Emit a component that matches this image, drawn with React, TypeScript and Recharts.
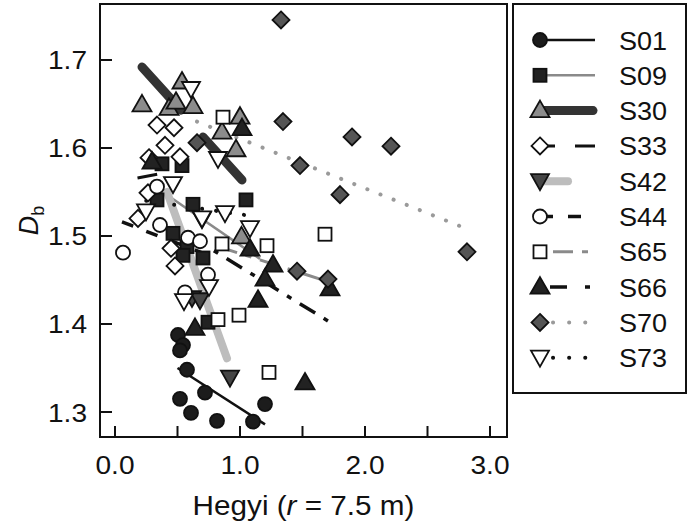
import React from "react";
import { ComposedChart, Scatter, Line, XAxis, YAxis, ReferenceArea } from "recharts";

// ---------- data ----------
const SERIES_NAMES = ["S01", "S09", "S30", "S33", "S42", "S44", "S65", "S66", "S70", "S73"];

const S01_X = [0.504, 0.544, 0.52, 0.576, 0.72, 0.52, 0.608, 0.816, 1.2, 1.104];
const S01_Y = [1.3875, 1.376, 1.37, 1.348, 1.322, 1.315, 1.299, 1.29, 1.309, 1.289];
const S09_X = [0.376, 0.536, 0.624, 1.048, 0.336, 0.464, 0.576, 0.544, 0.704, 0.744];
const S09_Y = [1.582, 1.58, 1.536, 1.541, 1.541, 1.503, 1.488, 1.478, 1.475, 1.402];
const S30_X = [0.216, 0.536, 0.432, 0.488, 0.624, 0.856, 1.0, 0.968, 1.012];
const S30_Y = [1.649, 1.675, 1.645, 1.652, 1.647, 1.618, 1.635, 1.598, 1.499];
const S33_X = [0.336, 0.472, 0.4, 0.272, 0.52, 0.264, 0.184, 0.448, 0.48];
const S33_Y = [1.626, 1.623, 1.603, 1.589, 1.59, 1.549, 1.52, 1.486, 1.466];
const S42_X = [0.616, 0.68, 0.92, 0.696];
const S42_Y = [1.4295, 1.427, 1.339, 1.519];
const S44_X = [0.064, 0.336, 0.36, 0.584, 0.68, 0.744, 0.56];
const S44_Y = [1.481, 1.556, 1.5125, 1.498, 1.494, 1.456, 1.436];
const S65_X = [0.864, 0.856, 1.216, 1.68, 0.824, 0.992, 1.232];
const S65_Y = [1.635, 1.491, 1.489, 1.502, 1.405, 1.41, 1.345];
const S66_X = [0.296, 1.016, 1.08, 1.264, 1.2, 1.144, 0.64, 1.52, 1.72];
const S66_Y = [1.584, 1.622, 1.485, 1.467, 1.451, 1.427, 1.395, 1.333, 1.44];
const S70_X = [1.328, 1.344, 0.656, 1.48, 1.896, 2.208, 1.8, 1.456, 1.704, 2.816];
const S70_Y = [1.7455, 1.63, 1.606, 1.58, 1.6125, 1.602, 1.547, 1.46, 1.451, 1.482];
const S73_X = [0.608, 0.824, 0.464, 0.248, 0.696, 0.88, 1.08, 0.552, 0.752];
const S73_Y = [1.667, 1.5875, 1.559, 1.528, 1.52, 1.526, 1.509, 1.426, 1.442];

// fitted lines (x, y); null y = gap
const FIT01_X = [0.5, 1.2];
const FIT01_Y = [1.35, 1.286];
const FIT09_X = [0.3, 1.16];
const FIT09_Y = [1.558, 1.474];
const FIT30_X = [0.216, 0.528, 0.62, 0.704, 1.016];
const FIT30_Y = [1.692, 1.643, null, 1.6125, 1.5636];
const FIT33_X = [0.18, 0.52];
const FIT33_Y = [1.566, 1.575];
const FIT42_X = [0.416, 0.896];
const FIT42_Y = [1.55, 1.361];
const FIT44_X = [0.056, 0.75];
const FIT44_Y = [1.516, 1.478];
const FIT65_X = [0.824, 1.664];
const FIT65_Y = [1.488, 1.45];
const FIT66_X = [0.6, 1.72];
const FIT66_Y = [1.5, 1.402];
const FIT70_X = [0.656, 2.8];
const FIT70_Y = [1.63, 1.509];
const FIT73_X = [0.25, 1.08];
const FIT73_Y = [1.54, 1.523];

const X_TICKS = [0, 0.5, 1, 1.5, 2, 2.5, 3];
const Y_TICKS = [1.3, 1.4, 1.5, 1.6, 1.7];
const X_DOMAIN = [-0.12, 3.136];
const Y_DOMAIN = [1.2716, 1.7636];

const zip = (xs: number[], ys: (number | null)[]) => xs.map((x, i) => ({ x, y: ys[i] }));

const POINTS = [
  zip(S01_X, S01_Y), zip(S09_X, S09_Y), zip(S30_X, S30_Y), zip(S33_X, S33_Y), zip(S42_X, S42_Y),
  zip(S44_X, S44_Y), zip(S65_X, S65_Y), zip(S66_X, S66_Y), zip(S70_X, S70_Y), zip(S73_X, S73_Y),
];
const FITS = [
  zip(FIT01_X, FIT01_Y), zip(FIT09_X, FIT09_Y), zip(FIT30_X, FIT30_Y), zip(FIT33_X, FIT33_Y), zip(FIT42_X, FIT42_Y),
  zip(FIT44_X, FIT44_Y), zip(FIT65_X, FIT65_Y), zip(FIT66_X, FIT66_Y), zip(FIT70_X, FIT70_Y), zip(FIT73_X, FIT73_Y),
];

// ---------- styles ----------
type Kind = "circle" | "square" | "triangle" | "diamond" | "invtri";
const MARKERS: { kind: Kind; fill: string }[] = [
  { kind: "circle", fill: "#1c1c1c" },
  { kind: "square", fill: "#222" },
  { kind: "triangle", fill: "#8c8c8c" },
  { kind: "diamond", fill: "#fff" },
  { kind: "invtri", fill: "#454545" },
  { kind: "circle", fill: "#fff" },
  { kind: "square", fill: "#fff" },
  { kind: "triangle", fill: "#222" },
  { kind: "diamond", fill: "#555" },
  { kind: "invtri", fill: "#fff" },
];
const LINES = [
  { stroke: "#111", width: 2.5, dash: undefined, cap: "butt" },
  { stroke: "#8a8a8a", width: 2.5, dash: undefined, cap: "butt" },
  { stroke: "#333", width: 9, dash: undefined, cap: "round" },
  { stroke: "#111", width: 3, dash: "20 20", cap: "butt" },
  { stroke: "#bdbdbd", width: 8, dash: undefined, cap: "round" },
  { stroke: "#111", width: 3.5, dash: "12 14", cap: "butt" },
  { stroke: "#8a8a8a", width: 3, dash: "20 9 6 9", cap: "butt" },
  { stroke: "#111", width: 3.5, dash: "18 10 5 10", cap: "butt" },
  { stroke: "#9a9a9a", width: 4, dash: "0.1 14", cap: "round" },
  { stroke: "#111", width: 4, dash: "0.1 14", cap: "round" },
];
const LEGEND_LINES = [
  { x1: 540, x2: 595 },
  { x1: 540, x2: 595 },
  { x1: 540, x2: 593 },
  { x1: 535, x2: 595 },
  { x1: 540, x2: 568 },
  { x1: 540, x2: 582 },
  { x1: 553, x2: 590 },
  { x1: 550, x2: 590 },
  { x1: 553, x2: 590 },
  { x1: 553, x2: 590 },
];
const LEGEND_DASH = [undefined, undefined, undefined, "20 20", undefined, "13 15", "20 9 6 9", "17 18 5 10", "0.1 16", "0.1 16"];

const FONT = "'Liberation Sans', Arial, Helvetica, sans-serif";

function Marker({ kind, cx, cy, fill }: { kind: Kind; cx: number; cy: number; fill: string }) {
  const common = { fill, stroke: "#111", strokeWidth: 1.8 };
  switch (kind) {
    case "circle":
      return <circle cx={cx} cy={cy} r={7} {...common} />;
    case "square":
      return <rect x={cx - 6.5} y={cy - 6.5} width={13} height={13} {...common} />;
    case "triangle":
      return <polygon points={`${cx},${cy - 10} ${cx + 9.5},${cy + 6.5} ${cx - 9.5},${cy + 6.5}`} {...common} />;
    case "diamond":
      return <polygon points={`${cx},${cy - 8.5} ${cx + 8.5},${cy} ${cx},${cy + 8.5} ${cx - 8.5},${cy}`} {...common} />;
    case "invtri":
      return <polygon points={`${cx - 9},${cy - 7} ${cx + 9},${cy - 7} ${cx},${cy + 9}`} {...common} />;
  }
  return null;
}

const XTick = (props: any) => {
  const { x, y, payload } = props;
  const v = payload.value as number;
  return (
    <g>
      <line x1={x} x2={x} y1={y} y2={y - 11} stroke="#111" strokeWidth={2} />
      {Number.isInteger(v) && (
        <text
          transform={`translate(${x},${y + 37}) scale(1.08,1)`}
          textAnchor="middle"
          fontSize={26}
          fontFamily={FONT}
          fill="#111"
        >
          {v.toFixed(1)}
        </text>
      )}
    </g>
  );
};

const YTick = (props: any) => {
  const { x, y, payload } = props;
  const v = payload.value as number;
  return (
    <g>
      <line x1={x} x2={x + 12} y1={y} y2={y} stroke="#111" strokeWidth={2} />
      <text
        transform={`translate(${x - 13},${y + 9.5}) scale(1.08,1)`}
        textAnchor="end"
        fontSize={26}
        fontFamily={FONT}
        fill="#111"
      >
        {v.toFixed(1)}
      </text>
    </g>
  );
};

const XTitle = (props: any) => {
  const vb = props.viewBox;
  return (
    <text
      transform={`translate(${vb.x + vb.width / 2},${vb.y + 78}) scale(1.06,1)`}
      textAnchor="middle"
      fontSize={28}
      fontFamily={FONT}
      fill="#111"
    >
      Hegyi (<tspan fontStyle="italic">r</tspan> = 7.5 m)
    </text>
  );
};

const YTitle = (props: any) => {
  const vb = props.viewBox;
  const cy = vb.y + vb.height / 2;
  return (
    <text transform={`translate(38,${cy}) rotate(-90)`} textAnchor="middle" fontSize={27} fontFamily={FONT} fill="#111">
      <tspan fontStyle="italic">D</tspan>
      <tspan fontSize={18} dy={6}>b</tspan>
    </text>
  );
};

function LegendBox() {
  return (
    <svg width={690} height={524} style={{ position: "absolute", left: 0, top: 0, pointerEvents: "none" }}>
      <rect x={513} y={4} width={173} height={389} fill="none" stroke="#111" strokeWidth={2} />
      {SERIES_NAMES.map((name, i) => {
        const cy = 40 + i * 35.3;
        const l = LINES[i];
        const ll = LEGEND_LINES[i];
        return (
          <g key={name}>
            <line
              x1={ll.x1}
              x2={ll.x2}
              y1={cy}
              y2={cy}
              stroke={l.stroke}
              strokeWidth={l.width}
              strokeDasharray={LEGEND_DASH[i]}
              strokeLinecap={l.cap as any}
            />
            <Marker kind={MARKERS[i].kind} cx={540} cy={cy} fill={MARKERS[i].fill} />
            <text
              transform={`translate(619,${cy + 9.5}) scale(1.04,1)`}
              fontSize={26}
              fontFamily={FONT}
              fill="#111"
            >
              {name}
            </text>
          </g>
        );
      })}
    </svg>
  );
}

export default function App() {
  return (
    <div style={{ position: "absolute", left: 0, top: 0, width: 690, height: 524, background: "#fff" }}>
      <ComposedChart width={690} height={524} margin={{ top: 4, right: 183, bottom: 0, left: 0 }}>
        <XAxis
          dataKey="x"
          type="number"
          domain={X_DOMAIN}
          allowDataOverflow
          ticks={X_TICKS}
          interval={0}
          tickSize={0}
          tickMargin={0}
          tick={<XTick />}
          tickLine={false}
          axisLine={false}
          height={87}
          label={{ content: <XTitle /> } as any}
        />
        <YAxis
          dataKey="y"
          type="number"
          domain={Y_DOMAIN}
          allowDataOverflow
          ticks={Y_TICKS}
          interval={0}
          tickSize={0}
          tickMargin={0}
          tick={<YTick />}
          tickLine={false}
          axisLine={false}
          width={100}
          label={{ content: <YTitle /> } as any}
        />
        <ReferenceArea
          x1={X_DOMAIN[0]}
          x2={X_DOMAIN[1]}
          y1={Y_DOMAIN[0]}
          y2={Y_DOMAIN[1]}
          fill="none"
          fillOpacity={0}
          stroke="#111"
          strokeWidth={2}
          ifOverflow="visible"
        />
        {SERIES_NAMES.map((name, i) => [
          <Scatter
            key={name + "-pts"}
            name={name}
            data={POINTS[i]}
            isAnimationActive={false}
            shape={(p: any) => <Marker kind={MARKERS[i].kind} cx={p.cx} cy={p.cy} fill={MARKERS[i].fill} />}
          />,
          <Line
            key={name + "-fit"}
            data={FITS[i]}
            dataKey="y"
            type="linear"
            dot={false}
            activeDot={false}
            isAnimationActive={false}
            stroke={LINES[i].stroke}
            strokeWidth={LINES[i].width}
            strokeDasharray={LINES[i].dash}
            strokeLinecap={LINES[i].cap as any}
            connectNulls={false}
            legendType="none"
          />,
        ])}
      </ComposedChart>
      <LegendBox />
    </div>
  );
}
